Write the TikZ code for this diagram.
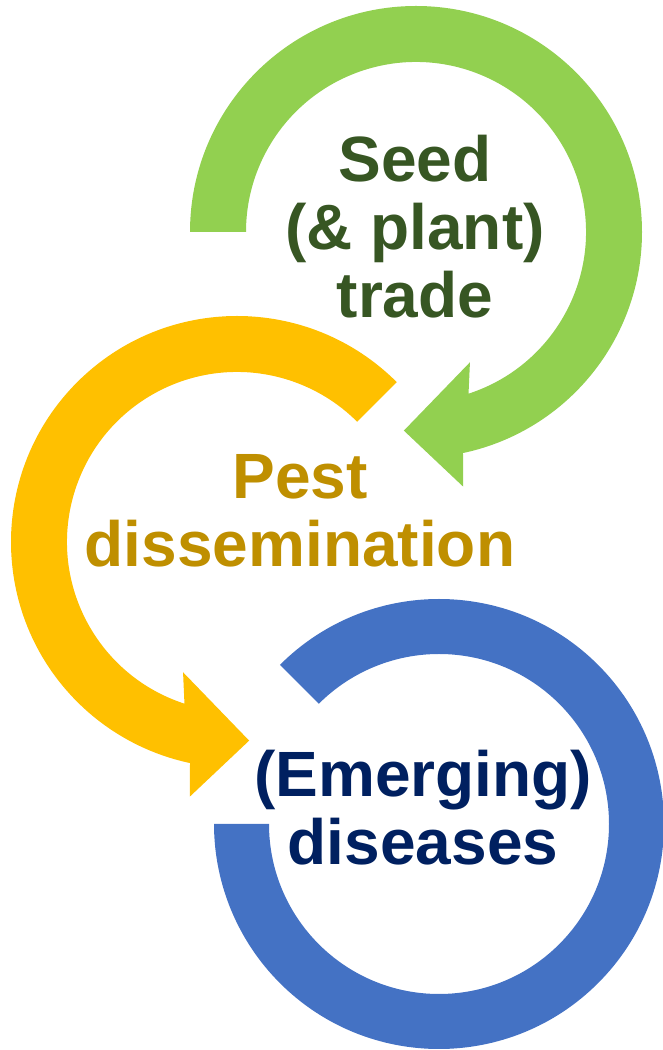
\documentclass[tikz,border=0pt]{standalone}
\usepackage{fontspec}
\setmainfont{Liberation Sans}
\usetikzlibrary{calc}
\definecolor{seedgreen}{HTML}{92D050}
\definecolor{seedtext}{HTML}{375623}
\definecolor{pestorange}{HTML}{FFC000}
\definecolor{pesttext}{HTML}{BF8F00}
\definecolor{diseaseblue}{HTML}{4472C4}
\definecolor{diseasetext}{HTML}{002060}
\tikzset{ringlabel/.style={font=\fontsize{64}{68}\selectfont\bfseries, align=center, inner sep=0pt}}

\begin{document}
\begin{tikzpicture}[x=1pt,y=1pt]
    \useasboundingbox (0,0) rectangle (663,1050);
    \coordinate (seedc) at (416,818);
    \coordinate (pestc) at (237,508);
    \coordinate (disc) at (439,226);
    % seed trade arrow
    \fill[seedgreen] ($(seedc)+(180:226)$) arc[start angle=180, end angle=-78, radius=226]
        -- ($(seedc)+(-79.5:259)$) -- ($(seedc)+(-93.5:199)$) -- ($(seedc)+(-67.5:141)$)
        -- ($(seedc)+(-72:170)$) arc[start angle=-72, end angle=180, radius=170] -- cycle;
    % pest arrow
    \fill[pestorange] ($(pestc)+(45:226)$) arc[start angle=45, end angle=258, radius=226]
        -- ($(pestc)+(259.5:259)$) -- ($(pestc)+(273.5:199)$) -- ($(pestc)+(247.5:141)$)
        -- ($(pestc)+(252:170)$) arc[start angle=252, end angle=45, radius=170] -- cycle;
    % disease ring
    \fill[diseaseblue] ($(disc)+(135:225)$) arc[start angle=135, end angle=-180, radius=225]
        -- ($(disc)+(180:170)$) arc[start angle=-180, end angle=135, radius=170] -- cycle;
    \node[ringlabel, text=seedtext] (seed) at (415,823.5) {Seed\\(\& plant)\\trade};
    \node[ringlabel, text=pesttext] (pest) at (300,539) {Pest\\dissemination};
    \node[ringlabel, text=diseasetext] (disease) at (423,242.5) {(Emerging)\\diseases};
\end{tikzpicture}
\end{document}
